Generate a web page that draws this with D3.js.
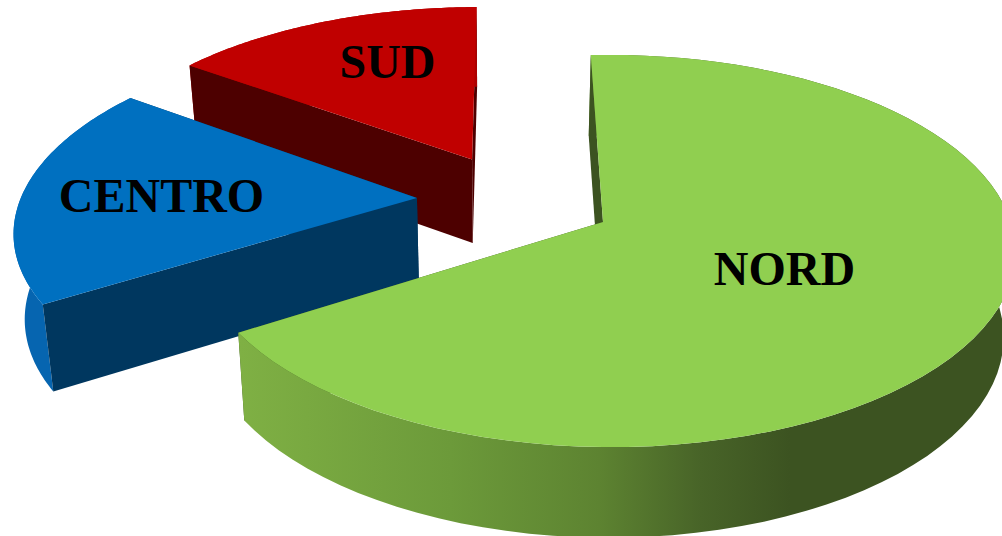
<!DOCTYPE html>
<html><head><meta charset="utf-8">
<script src="https://cdn.jsdelivr.net/npm/d3@7"></script>
<style>html,body{margin:0;padding:0;background:#fff;overflow:hidden}svg{display:block}
text{font-family:"Liberation Serif",serif;font-weight:bold;font-size:48px;fill:#000;text-anchor:middle}</style>
</head><body><svg id="c" width="1002" height="536"></svg>
<script>
const categories = ["NORD", "CENTRO", "SUD"];
const values = [66.3, 18.8, 14.9];

const labelAnchor = [[784.5, 285], [161.5, 212], [387.5, 78]];
const topColors = ["#90cf50", "#0070c0", "#c00000"];
const cutColors = ["#3c5321", "#00375f", "#4d0000"];
const rimColors = ["url(#nordRim)", "#0665b0", "#ad0000"];

const deg = Math.PI / 180;
const startA = -2 * deg;
const explode = 0.25;
const depth = 85, shrink = 0.023, vanishX = 500;
const A = 401, B = 191.8, p = 0.148, r = 0.017, roll = 0.011, ax = 603, ay = 222;

const pie = d3.pie().sort(null).startAngle(startA).endAngle(startA + 2 * Math.PI);
const arcs = pie(values);
const offset = a => { const m = (a.startAngle + a.endAngle) / 2; return [explode * Math.sin(m), -explode * Math.cos(m)]; };
const o0 = offset(arcs[0]);

function project(u, v) {
  const w = 1 - p * v - r * Math.max(u, 0);
  const x = ax + A * u / w;
  return [x, ay + B * v / w + roll * Math.min(x - ax, 0)];
}
function lower(pt) {
  return [pt[0] + shrink * (vanishX - pt[0]), pt[1] + depth + (pt[1] - ay) * 0.025];
}
const line = d3.line();
const svg = d3.select("#c");
const grad = svg.append("defs").append("linearGradient").attr("id", "nordRim")
  .attr("gradientUnits", "userSpaceOnUse").attr("x1", 240).attr("x2", 1002).attr("y1", 0).attr("y2", 0);
[[0, "#7fb044"], [0.276, "#6c9a3a"], [0.472, "#5d8331"], [0.604, "#486428"], [0.722, "#3c5321"], [1, "#3c5321"]]
  .forEach(s => grad.append("stop").attr("offset", s[0]).attr("stop-color", s[1]));

[2, 1, 0].forEach(i => {
  const a = arcs[i], o = offset(a);
  const cu = o[0] - o0[0], cv = o[1] - o0[1];
  const pt = t => project(cu + Math.sin(t), cv - Math.cos(t));
  const n = 80;
  const rim = d3.range(n + 1).map(k => pt(a.startAngle + (a.endAngle - a.startAngle) * k / n));
  const apex = project(cu, cv);
  const g = svg.append("g").attr("class", "slice").attr("data-name", categories[i]);
  const cut = e => g.append("path").attr("d", line([apex, e, lower(e), lower(apex)]) + "Z").attr("fill", cutColors[i]);
  cut(rim[n]);
  g.append("path").attr("d", line(rim.concat(rim.map(lower).reverse())) + "Z").attr("fill", rimColors[i]);
  cut(rim[0]);
  g.append("path").attr("d", line([apex].concat(rim)) + "Z").attr("fill", topColors[i]);
});

svg.selectAll("text").data(categories).join("text")
  .attr("x", (d, i) => labelAnchor[i][0]).attr("y", (d, i) => labelAnchor[i][1]).text(d => d);
</script></body></html>
